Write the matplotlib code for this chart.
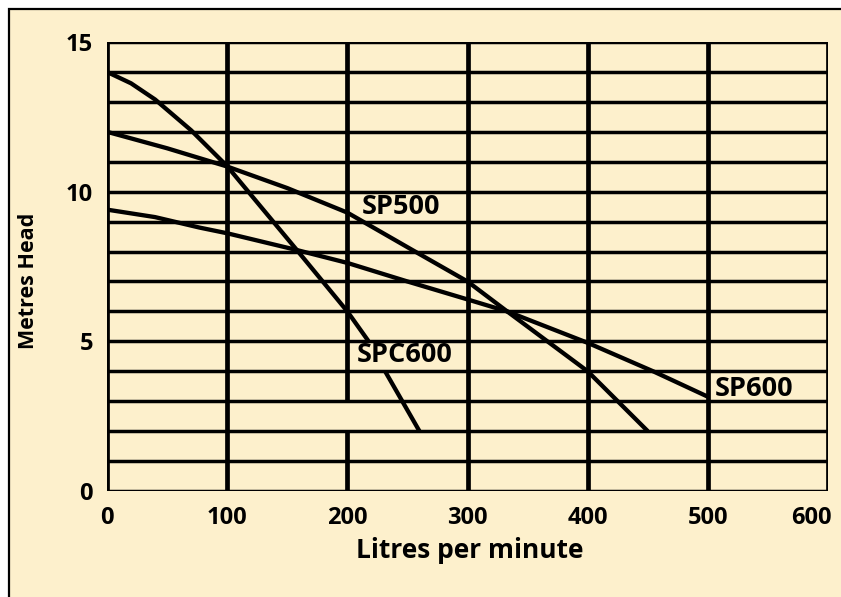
import matplotlib
matplotlib.use("Agg")
import matplotlib.pyplot as plt
import matplotlib.transforms as mtransforms
from matplotlib.patches import Rectangle

# grid / tick values
flow_ticks = [0, 100, 200, 300, 400, 500, 600]
head_rows = list(range(0, 16))
head_ticks = [0, 5, 10, 15]

# pump curves (litres per minute, metres head)
spc600_flow = [0, 20, 40, 70, 100, 130, 158, 200, 217, 230, 260]
spc600_head = [14.0, 13.62, 13.08, 12.05, 10.85, 9.4, 8.05, 6.0, 5.04, 4.1, 2.0]

sp500_flow = [0, 50, 100, 150, 200, 252, 300, 333, 400, 450]
sp500_head = [12.0, 11.45, 10.84, 10.12, 9.3, 8.1, 7.0, 6.0, 4.0, 2.0]

sp600_flow = [0, 40, 77, 100, 158, 200, 250, 300, 333, 400, 455, 500]
sp600_head = [9.4, 9.15, 8.8, 8.61, 8.05, 7.62, 7.0, 6.4, 6.0, 4.95, 3.99, 3.15]

# the grid has one missing piece: x=200 between head 2 and 3
gap_x, gap_lo, gap_hi = 200, 2, 3

cream = "#fdf0cc"
font = "Open Sans"

fig = plt.figure(figsize=(8.41, 5.97), dpi=100, facecolor="white")
# cream panel with a black edge on the left and top
fig.add_artist(Rectangle((9 / 841, -0.05), 1.2, 1 - 9 / 597 + 0.05,
                         transform=fig.transFigure, facecolor=cream,
                         edgecolor="black", linewidth=1.6, zorder=-10))

ax = fig.add_axes([107 / 841, 1 - 491 / 597, 721 / 841, 449 / 597])
ax.set_facecolor(cream)
ax.set_xlim(0, 600)
ax.set_ylim(0, 15)

for y in head_rows:
    ax.axhline(y, color="black", lw=2.5, zorder=5)
for x in flow_ticks:
    if x == gap_x:
        ax.vlines(x, 0, gap_lo, color="black", lw=3.4, zorder=5)
        ax.vlines(x, gap_hi, 15, color="black", lw=3.4, zorder=5)
    else:
        ax.axvline(x, color="black", lw=3.4, zorder=5)

for spine in ax.spines.values():
    spine.set_visible(False)

for fl, hd in [(spc600_flow, spc600_head), (sp500_flow, sp500_head),
               (sp600_flow, sp600_head)]:
    ax.plot(fl, hd, color="black", lw=3.1, solid_capstyle="butt",
            solid_joinstyle="round", zorder=3)

lab = dict(fontsize=19.5, fontweight="bold", family=font, va="center",
           ha="left", color="black")
ax.text(212, 9.49, "SP500", zorder=6, **lab)
ax.text(207.5, 4.54, "SPC600", zorder=4,
        bbox=dict(boxstyle="square,pad=0.08", facecolor=cream, edgecolor="none"),
        **lab)
ax.text(505.5, 3.42, "SP600", zorder=6, **lab)

ax.set_xticks(flow_ticks)
ax.set_yticks(head_ticks)
ax.tick_params(length=0, labelsize=17, pad=11)
ax.tick_params(axis="y", pad=10)
for t in ax.get_xticklabels() + ax.get_yticklabels():
    t.set_fontweight("bold")
    t.set_family(font)

# last x label sits inside the frame, as in the original
last = ax.get_xticklabels()[-1]
last.set_horizontalalignment("right")
last.set_transform(last.get_transform() +
                   mtransforms.ScaledTranslation(4 / 100, 0, fig.dpi_scale_trans))

fig.text(470 / 841, 1 - 550 / 597, "Litres per minute", ha="center",
         va="center", fontsize=19, fontweight="bold", family=font)
fig.text(29 / 841, 1 - 281 / 597, "Metres Head", ha="center", va="center",
         rotation=90, fontsize=15.5, fontweight="bold", family=font)

fig.savefig("out.png", dpi=100, facecolor="white")
